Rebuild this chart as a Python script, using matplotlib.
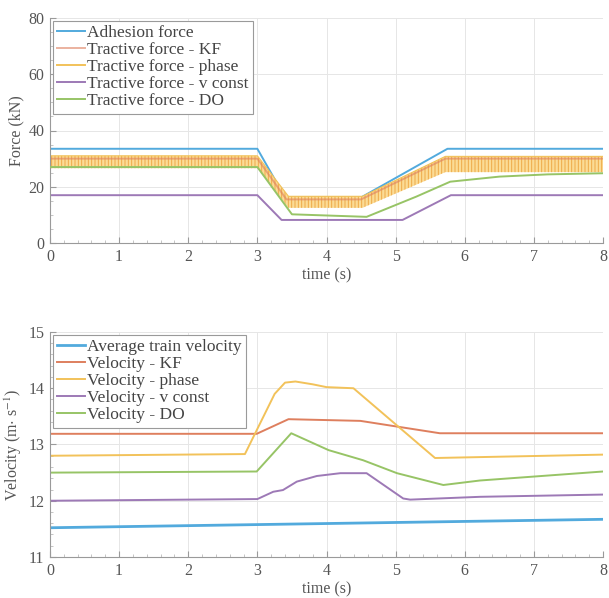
import numpy as np
import matplotlib
matplotlib.use('Agg')
import matplotlib.pyplot as plt

plt.rcParams['font.family'] = ['Liberation Serif', 'DejaVu Serif']
plt.rcParams['mathtext.fontset'] = 'stix'
plt.rcParams['hatch.linewidth'] = 0.7

# ---- top panel: forces (kN), key points
t_adh = [0, 3.0, 3.4, 4.5, 5.75, 8]
f_adh = [33.5, 33.5, 16.2, 16.2, 33.5, 33.5]

t_kf = [0, 3.0, 3.42, 4.5, 5.72, 8]
f_kf = [30.0, 30.0, 15.5, 15.5, 30.0, 30.0]

t_phase = [0, 3.0, 3.45, 4.52, 5.72, 8]
f_phase_hi = [31.0, 31.0, 16.6, 16.6, 30.8, 30.8]
f_phase_lo = [26.6, 26.6, 12.5, 12.5, 25.2, 25.2]

t_vc = [0, 3.0, 3.35, 5.1, 5.8, 8]
f_vc = [17.0, 17.0, 8.2, 8.2, 17.0, 17.0]

t_do = [0, 3.0, 3.5, 4.58, 5.3, 5.79, 6.5, 7.2, 8]
f_do = [27.0, 27.0, 10.2, 9.3, 16.5, 21.8, 23.6, 24.4, 24.8]

# ---- bottom panel: velocities (m/s)
t_avg = [0, 8]
v_avg = [11.52, 11.67]

t_vkf = [0, 2.99, 3.45, 4.49, 5.64, 8]
v_vkf = [13.19, 13.19, 13.45, 13.42, 13.2, 13.2]

t_vph = [0, 2.82, 3.25, 3.4, 3.55, 3.8, 4.0, 4.39, 5.57, 8]
v_vph = [12.8, 12.83, 13.9, 14.1, 14.12, 14.07, 14.02, 14.0, 12.76, 12.82]

t_vvc = [0, 3.0, 3.23, 3.37, 3.57, 3.86, 4.2, 4.58, 5.11, 5.21, 6.22, 8]
v_vvc = [12.0, 12.03, 12.16, 12.19, 12.34, 12.44, 12.49, 12.49, 12.04, 12.02, 12.07, 12.11]

t_vdo = [0, 2.99, 3.49, 4.03, 4.53, 5.02, 5.69, 6.22, 7.0, 8]
v_vdo = [12.5, 12.52, 13.2, 12.9, 12.72, 12.49, 12.28, 12.36, 12.43, 12.52]

c_blue = '#52aadd'
c_orange = '#de7f5e'
c_yellow = '#f2c25a'
c_purple = '#9d79b6'
c_green = '#97c466'
txt = '#555555'

fig = plt.figure(figsize=(6.09, 5.98), dpi=100)
ax1 = fig.add_axes([50 / 609, 1 - 243 / 598, 553 / 609, 225 / 598])
ax2 = fig.add_axes([50 / 609, 1 - 557 / 598, 553 / 609, 225 / 598])

lw = 1.4
ax1.plot(t_adh, f_adh, color=c_blue, lw=lw, label='Adhesion force')
ax1.fill_between(t_phase, f_phase_lo, f_phase_hi, facecolor='#fbdc96',
                 edgecolor='#eeaa48', hatch='|||||', linewidth=0, zorder=2)
ax1.plot(t_kf, f_kf, color=c_orange, lw=lw, alpha=0.6, zorder=2,
         label='Tractive force - KF')
ax1.plot(t_phase, f_phase_hi, color=c_yellow, lw=0.8, zorder=2)
ax1.plot([], [], color=c_yellow, lw=lw, label='Tractive force - phase')
ax1.plot(t_vc, f_vc, color=c_purple, lw=lw, label='Tractive force - v const')
ax1.plot(t_do, f_do, color=c_green, lw=lw, label='Tractive force - DO', zorder=3)

ax2.plot(t_avg, v_avg, color=c_blue, lw=2.0, label='Average train velocity')
ax2.plot(t_vkf, v_vkf, color=c_orange, lw=lw, label='Velocity - KF')
ax2.plot(t_vph, v_vph, color=c_yellow, lw=lw, label='Velocity - phase')
ax2.plot(t_vvc, v_vvc, color=c_purple, lw=lw, label='Velocity - v const')
ax2.plot(t_vdo, v_vdo, color=c_green, lw=lw, label='Velocity - DO')

ax1.set_ylim(0, 80)
ax1.set_yticks([0, 20, 40, 60, 80])
ax1.set_ylabel('Force (kN)', fontsize=11.5, color=txt, labelpad=3)
ax2.set_ylim(11, 15)
ax2.set_yticks([11, 12, 13, 14, 15])
ax2.set_ylabel(r'Velocity (m$\cdot$ s$^{-1}$)', fontsize=11.5, color=txt, labelpad=3)

for ax in (ax1, ax2):
    ax.set_xlim(0, 8)
    ax.set_xticks(range(0, 9))
    ax.set_xlabel('time (s)', fontsize=11.5, color=txt, labelpad=2)
    ax.grid(True, color='#e6e6e6', lw=0.7)
    ax.set_axisbelow(True)
    for s in ('top', 'right'):
        ax.spines[s].set_visible(False)
    for s in ('left', 'bottom'):
        ax.spines[s].set_color('#9a9a9a')
        ax.spines[s].set_linewidth(0.8)
    ax.tick_params(direction='in', length=4, color='#9a9a9a', labelcolor=txt,
                   labelsize=11.5, pad=4)
    ax.minorticks_on()
    ax.tick_params(which='minor', direction='in', length=2, color='#bbbbbb')
    leg = ax.legend(loc='upper left', fontsize=12.5, handlelength=1.6,
                    handletextpad=0.15, borderpad=0.25, labelspacing=0.05,
                    borderaxespad=0.15, fancybox=False, framealpha=1)
    leg.get_frame().set_edgecolor('#9a9a9a')
    leg.get_frame().set_linewidth(0.8)
    for tx in leg.get_texts():
        tx.set_color('#444444')

fig.savefig('out.png', dpi=100)
